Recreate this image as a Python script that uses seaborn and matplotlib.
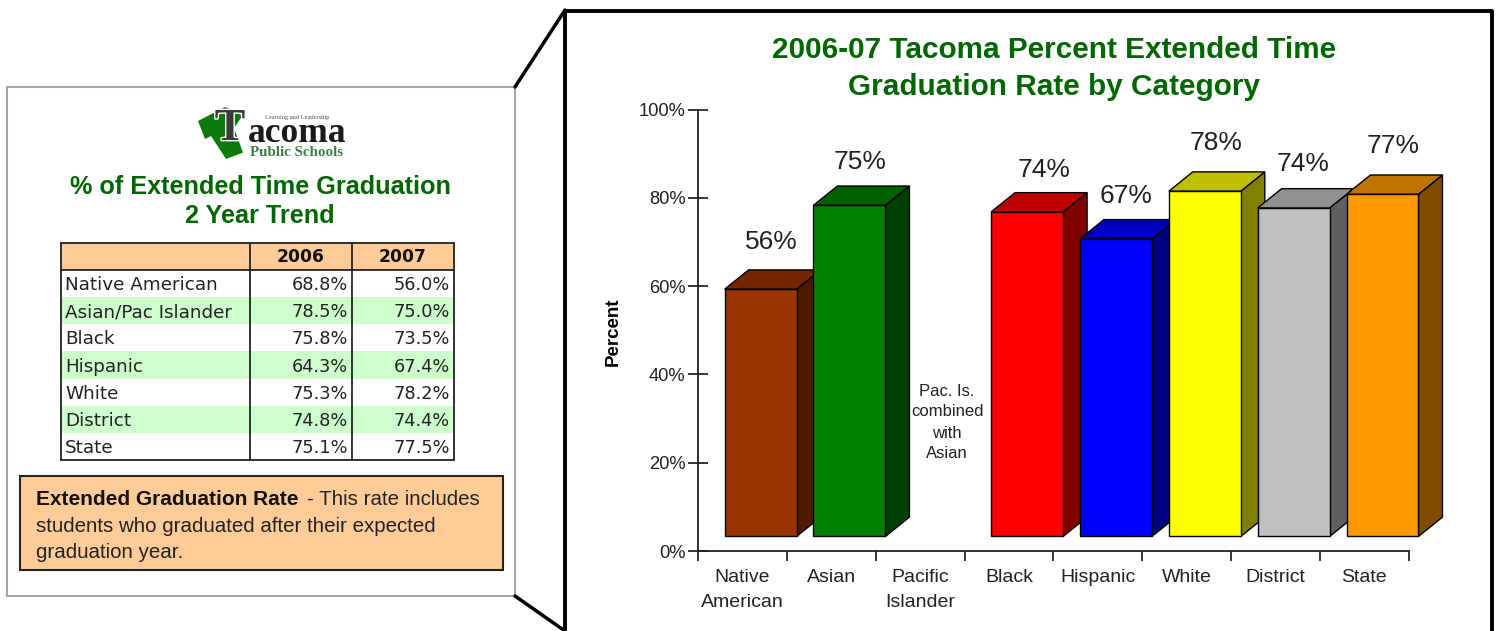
import numpy as np
import pandas as pd
import matplotlib.pyplot as plt
import matplotlib.colors as mcolors
import matplotlib.patheffects as pe
from matplotlib.patches import Polygon, Rectangle
import seaborn as sns

# chart values
categories = ["Native\nAmerican", "Asian", "Pacific\nIslander", "Black", "Hispanic", "White", "District", "State"]
values = [56.0, 75.0, np.nan, 73.5, 67.4, 78.2, 74.4, 77.5]
bar_labels = ["56%", "75%", "", "74%", "67%", "78%", "74%", "77%"]
bar_colors = ["#993300", "#008000", "#FFFFFF", "#FF0000", "#0000FF", "#FFFF00", "#C0C0C0", "#FF9900"]
y_ticks = [0, 20, 40, 60, 80, 100]

# table values
table_years = ["2006", "2007"]
table_rows = ["Native American", "Asian/Pac Islander", "Black", "Hispanic", "White", "District", "State"]
table_2006 = ["68.8%", "78.5%", "75.8%", "64.3%", "75.3%", "74.8%", "75.1%"]
table_2007 = ["56.0%", "75.0%", "73.5%", "67.4%", "78.2%", "74.4%", "77.5%"]

sns.set_style("white")
plt.rcParams["font.family"] = ["Liberation Sans", "DejaVu Sans"]

W, H = 1497, 631
GREEN = "#006600"
TEXT = "#222222"
PEACH = "#FFCC99"

fig = plt.figure(figsize=(W / 100, H / 100), dpi=100, facecolor="white")

# background layer in pixel coordinates
bg = fig.add_axes([0, 0, 1, 1])
bg.set_xlim(0, W)
bg.set_ylim(H, 0)
bg.axis("off")

# left panel and the callout frame
bg.add_patch(Rectangle((7, 87), 508, 509, fc="white", ec="#A6A6A6", lw=1.5))
bg.plot([515, 565], [87, 10], color="black", lw=2.5)
bg.plot([515, 565], [596, 631], color="black", lw=2.5)
bg.plot([565, 565, 1492, 1492], [640, 10.5, 10.5, 640], color="black", lw=2.8)

# logo
bg.add_patch(Polygon([(198, 121), (225, 107), (243, 115), (234, 128), (243, 152.6), (226, 159), (211, 136), (205, 139)],
                     fc="#0A7A0A", ec="none"))
logo_t = bg.text(230, 129, "T", family="Liberation Serif", weight="bold", fontsize=33, color="#3A3A3A", ha="center", va="center")
logo_t.set_path_effects([pe.withStroke(linewidth=2, foreground="white")])
bg.text(297.5, 133, "acoma", family="Liberation Serif", weight="bold", fontsize=25.5, color="#1A1A1A", ha="center", va="center")
bg.text(296.5, 153, "Public Schools", family="Liberation Serif", weight="bold", fontsize=10.8, color="#3E7E3E", ha="center", va="center")
bg.text(297, 117, "Learning and Leadership", family="Liberation Serif", fontsize=4.6, color="#555555", ha="center", va="center")

# left titles
bg.text(261, 187, "% of Extended Time Graduation", weight="bold", fontsize=18.2, color=GREEN, ha="center", va="center")
bg.text(260, 216, "2 Year Trend", weight="bold", fontsize=18.2, color=GREEN, ha="center", va="center")

# table
col_x = [61, 250, 351.5, 453.5]
top, header_bottom, bottom = 243, 270, 460
row_h = (bottom - header_bottom) / len(table_rows)
bg.add_patch(Rectangle((col_x[0], top), col_x[3] - col_x[0], header_bottom - top, fc=PEACH, ec="none"))
for i, row in enumerate(table_rows):
    yc = header_bottom + row_h * (i + 0.5)
    if i % 2 == 1:
        bg.add_patch(Rectangle((col_x[0], yc - row_h / 2), col_x[3] - col_x[0], row_h, fc="#CCFFCC", ec="none"))
    bg.text(65, yc + 1.5, row, family="DejaVu Sans", fontsize=13.2, color=TEXT, ha="left", va="center")
    bg.text(348, yc + 1.5, table_2006[i], family="DejaVu Sans", fontsize=12.8, color=TEXT, ha="right", va="center")
    bg.text(450, yc + 1.5, table_2007[i], family="DejaVu Sans", fontsize=12.8, color=TEXT, ha="right", va="center")
for x, year in zip([300.5, 402.5], table_years):
    bg.text(x, 257, year, family="DejaVu Sans", weight="bold", fontsize=12.3, color="#111111", ha="center", va="center")
for x in col_x:
    bg.plot([x, x], [top, bottom], color="#222222", lw=1.3)
for y in [top, header_bottom, bottom]:
    bg.plot([col_x[0], col_x[3]], [y, y], color="#222222", lw=1.3)

# note box
bg.add_patch(Rectangle((19.5, 476), 483, 94, fc=PEACH, ec="#222222", lw=1.5))
bg.text(36, 499.5, "Extended Graduation Rate", weight="bold", fontsize=15, color="#111111", ha="left", va="center")
bg.text(307, 499.5, "- This rate includes", fontsize=14.8, color=TEXT, ha="left", va="center")
bg.text(36, 526, "students who graduated after their expected", fontsize=14.8, color=TEXT, ha="left", va="center")
bg.text(36, 552, "graduation year.", fontsize=14.8, color=TEXT, ha="left", va="center")

# chart titles
bg.text(1054.5, 50, "2006-07 Tacoma Percent Extended Time", weight="bold", fontsize=21.4, color=GREEN, ha="center", va="center")
bg.text(1054, 87, "Graduation Rate by Category", weight="bold", fontsize=21.4, color=GREEN, ha="center", va="center")

# note where the Pacific Islander bar would be
for y, line in zip([391, 412, 433, 453], ["Pac. Is.", "combined", "with", "Asian"]):
    bg.text(947, y, line, fontsize=12, color=TEXT, ha="center", va="center")

bg.text(613, 332, "Percent", weight="bold", fontsize=13.5, color="black", rotation=90, ha="center", va="center")

# chart axes placed over the background
x0, x1, y0, y1 = 698, 1408.7, 551, 109.5
ax = fig.add_axes([x0 / W, (H - y0) / H, (x1 - x0) / W, (y0 - y1) / H])
ax.patch.set_alpha(0)

df = pd.DataFrame({"category": categories, "value": values})
sns.barplot(data=df, x="category", y="value", hue="category", order=categories, hue_order=categories,
            palette=dict(zip(categories, bar_colors)), legend=False, saturation=1, width=0.81,
            edgecolor="black", linewidth=1, ax=ax)

# front faces float above the axis and sit right of centre; depth faces give the 3D look
floor = 3.3
shift = 0.205
depth_x = 0.27
depth_y = 4.37
label_dx = [11, 11, 0, 17, 10, 11, 9, 11]
label_dy = [47, 43, 0, 42, 43, 48, 44, 48]

for p in ax.patches:
    h = p.get_height()
    if np.isnan(h) or h == 0:
        continue
    i = int(round(p.get_x() + p.get_width() / 2))
    p.set_x(p.get_x() + shift)
    p.set_y(floor)
    p.set_zorder(5 + 3 * i)
    p.set_clip_on(False)
    l, r, b, t = p.get_x(), p.get_x() + p.get_width(), floor, floor + h
    base = np.array(mcolors.to_rgb(bar_colors[i]))
    ax.add_patch(Polygon([(r, b), (r + depth_x, b + depth_y), (r + depth_x, t + depth_y), (r, t)],
                         fc=base * 0.5, ec="black", lw=1, zorder=3 + 3 * i, clip_on=False))
    ax.add_patch(Polygon([(l, t), (l + depth_x, t + depth_y), (r + depth_x, t + depth_y), (r, t)],
                         fc=base * 0.75, ec="black", lw=1, zorder=4 + 3 * i, clip_on=False))
    ax.annotate(bar_labels[i], (l + p.get_width() / 2, t), xytext=(label_dx[i] * 0.72, label_dy[i] * 0.72),
                textcoords="offset points", ha="center", va="center", fontsize=19, color=TEXT, zorder=40)

ax.set_xlim(-0.5, 7.5)
ax.set_ylim(0, 100)
ax.set_xlabel("")
ax.set_ylabel("")
ax.set_yticks(y_ticks)
ax.set_yticklabels([f"{t}%" for t in y_ticks])
ax.set_xticks(range(len(categories)))
ax.set_xticklabels(categories, linespacing=1.62)
ax.set_xticks(np.arange(-0.5, 8), minor=True)
ax.tick_params(axis="y", direction="inout", length=14, width=1.3, pad=2, labelsize=13.2, labelcolor=TEXT, left=True)
ax.tick_params(axis="x", which="major", length=0, pad=13, labelsize=14, labelcolor=TEXT)
ax.tick_params(axis="x", which="minor", direction="out", length=7, width=1.3, bottom=True)
sns.despine(ax=ax)
for side in ["left", "bottom"]:
    ax.spines[side].set_linewidth(1.3)
    ax.spines[side].set_color("#222222")

fig.savefig("out.png", dpi=100)
